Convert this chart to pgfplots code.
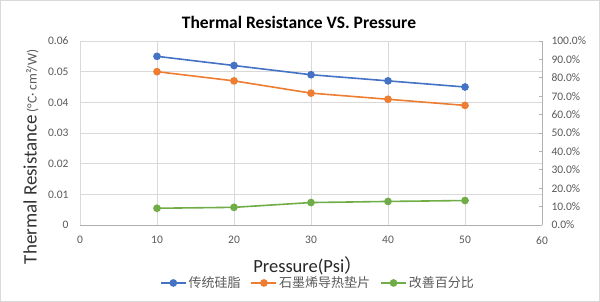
\documentclass[border=0pt]{standalone}
\usepackage{pgfplots}
\pgfplotsset{compat=1.18}
\usepackage{fontspec}
\setmainfont{Carlito}
\newfontfamily\cjk{Noto Sans CJK SC}

\definecolor{cblue}{HTML}{4472C4}
\definecolor{corange}{HTML}{ED7D31}
\definecolor{cgreen}{HTML}{70AD47}
\definecolor{cgrid}{HTML}{D9D9D9}
\definecolor{ctext}{HTML}{595959}

% Thermal resistance (left axis)
\pgfplotstableread{
p   grease  pad
10  0.055   0.050
20  0.052   0.047
30  0.049   0.043
40  0.047   0.041
50  0.045   0.039
}\resist
% Improvement ratio (right axis)
\pgfplotstableread{
p   ratio
10  0.091
20  0.096
30  0.122
40  0.128
50  0.133
}\improve

\begin{document}
\begin{tikzpicture}
\path[use as bounding box] (0pt,0pt) rectangle (600pt,302pt);
\draw[cgrid] (0.5pt,0.5pt) rectangle (599.5pt,301.5pt);
\node[font=\bfseries\fontsize{17.5}{20}\selectfont] at (299pt,280pt) {Thermal Resistance VS. Pressure};
\node[rotate=90, ctext] at (31pt,145pt)
  {{\fontsize{19}{22}\selectfont\color{black!80}Thermal Resistance} {\fontsize{13.5}{16}\selectfont(°C· cm²/W)}};
\node[font=\fontsize{18.5}{21}\selectfont, text=black!85] at (308pt,36pt) {Pressure(Psi{\cjk ）}};

\begin{axis}[
  at={(80pt,77pt)}, anchor=origin,
  scale only axis, width=462pt, height=184pt,
  xmin=0, xmax=60, ymin=0, ymax=0.06,
  xtick={0,10,20,30,40,50,60},
  ytick={0,0.01,0.02,0.03,0.04,0.05,0.06},
  yticklabels={0,0.01,0.02,0.03,0.04,0.05,0.06},
  scaled y ticks=false,
  /pgf/number format/assume math mode=true,
  tick label style={font=\fontsize{11.5}{13}\selectfont, text=ctext},
  xticklabel style={yshift=-8pt},
  yticklabel style={xshift=-8pt},
  grid=major, grid style={cgrid, line width=0.8pt},
  axis line style={draw=none},
  major tick length=0pt,
  clip=false,
]
\addplot[cblue, line width=1.6pt, mark=*, mark size=3pt] table[x=p, y=grease] {\resist};
\addplot[corange, line width=1.6pt, mark=*, mark size=3pt] table[x=p, y=pad] {\resist};
\draw[cgrid!80!black, line width=0.8pt] (axis cs:0,0) -- (axis cs:60,0);
\end{axis}

\begin{axis}[
  at={(80pt,77pt)}, anchor=origin,
  scale only axis, width=462pt, height=184pt,
  xmin=0, xmax=60, ymin=0, ymax=1,
  axis x line=none,
  axis y line*=right,
  y axis line style={draw=gray!60, line width=0.8pt},
  ytick={0,0.1,0.2,0.3,0.4,0.5,0.6,0.7,0.8,0.9,1},
  yticklabels={0.0\%,10.0\%,20.0\%,30.0\%,40.0\%,50.0\%,60.0\%,70.0\%,80.0\%,90.0\%,100.0\%},
  scaled y ticks=false,
  tick label style={font=\fontsize{11.5}{13}\selectfont, text=ctext},
  yticklabel style={xshift=6pt},
  ytick style={draw=gray!60, line width=0.8pt},
  major tick length=3pt,
  tick align=inside,
  legend style={at={(0.515,-0.315)}, anchor=center, draw=none, fill=none,
    legend columns=3, font=\cjk\fontsize{13}{15}\selectfont, text=ctext,
    /tikz/every even column/.append style={column sep=8pt}},
  legend image code/.code={\draw[mark repeat=2, mark phase=2, #1]
    plot coordinates {(0pt,0pt) (12.5pt,0pt) (25pt,0pt)};},
]
\addlegendimage{cblue, line width=1.6pt, mark=*, mark size=3pt}
\addlegendentry{传统硅脂}
\addlegendimage{corange, line width=1.6pt, mark=*, mark size=3pt}
\addlegendentry{石墨烯导热垫片}
\addplot[cgreen, line width=1.6pt, mark=*, mark size=3pt] table[x=p, y=ratio] {\improve};
\addlegendentry{改善百分比}
\end{axis}
\end{tikzpicture}
\end{document}
